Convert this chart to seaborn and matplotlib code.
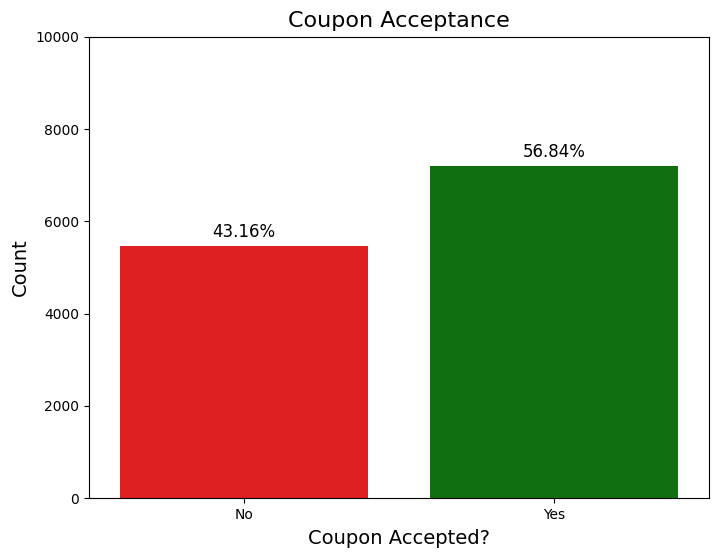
import matplotlib
matplotlib.use("Agg")
import matplotlib.pyplot as plt
import seaborn as sns
import pandas as pd

categories = ["No", "Yes"]
counts = [5474, 7210]
colors = ["red", "green"]

df = pd.DataFrame({"Coupon Accepted?": categories, "Count": counts})
total = sum(counts)

fig = plt.figure(figsize=(7.18, 5.56), dpi=100)
ax = fig.add_axes([89/718, 1 - 498/556, (709-89)/718, (498-37)/556])
sns.barplot(data=df, x="Coupon Accepted?", y="Count", hue="Coupon Accepted?",
            palette=colors, legend=False, ax=ax)
for i, c in enumerate(counts):
    ax.annotate(f"{c/total*100:.2f}%", (i, c), xytext=(0, 10), textcoords="offset points",
                ha="center", va="center", fontsize=12)
ax.set_ylim(0, 10000)
ax.set_title("Coupon Acceptance", fontsize=16, pad=7)
ax.set_xlabel("Coupon Accepted?", fontsize=14, labelpad=5)
ax.set_ylabel("Count", fontsize=14)
fig.savefig("out.png", dpi=100)
